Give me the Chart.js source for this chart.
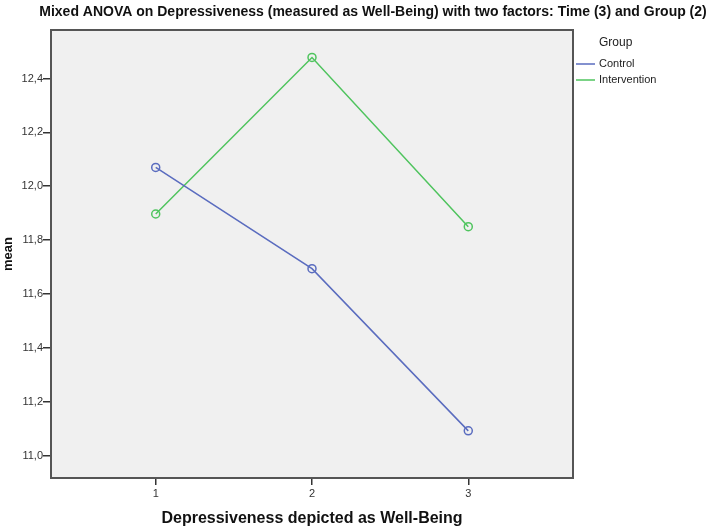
<!DOCTYPE html>
<html>
<head>
<meta charset="utf-8">
<script src="https://cdn.jsdelivr.net/npm/chart.js@4"></script>
<style>
  html, body { margin: 0; padding: 0; background: #fff; }
  #wrap { width: 709px; height: 528px; }
</style>
</head>
<body>
<div id="wrap"><canvas id="grafico" width="709" height="528"></canvas></div>
<script>
// datos
const tiempos = [1, 2, 3];
const control = [12.07, 11.694, 11.092];
const intervencion = [11.897, 12.478, 11.85];
const ticksY = [11.0, 11.2, 11.4, 11.6, 11.8, 12.0, 12.2, 12.4];

const titulo = 'Mixed ANOVA on Depressiveness (measured as Well-Being) with two factors: Time (3) and Group (2)';
const fuente = 'Arial, "Liberation Sans", sans-serif';

function puntos(serie) {
    return tiempos.map((t, i) => ({ x: t, y: serie[i] }));
}

// --- fondo, marco, titulo y leyenda ---
const decoracion = {
    id: 'decoracion',
    beforeDraw(chart) {
        const { ctx, chartArea: a } = chart;
        ctx.save();
        ctx.fillStyle = '#f0f0f0';
        ctx.fillRect(a.left, a.top, a.right - a.left, a.bottom - a.top);
        ctx.restore();
    },
    afterDraw(chart) {
        const { ctx, chartArea: a } = chart;
        ctx.save();
        ctx.strokeStyle = '#555';
        ctx.lineWidth = 2;
        ctx.strokeRect(a.left, a.top, a.right - a.left, a.bottom - a.top);

        // titulo
        ctx.fillStyle = '#111';
        ctx.font = 'bold 14px ' + fuente;
        ctx.textAlign = 'center';
        ctx.textBaseline = 'middle';
        ctx.fillText(titulo, 373, 12);

        // leyenda
        ctx.font = '12px ' + fuente;
        ctx.textAlign = 'left';
        ctx.fillStyle = '#222';
        ctx.fillText('Group', 599, 43);
        ctx.font = '11px ' + fuente;
        chart.data.datasets.forEach((ds, i) => {
            const y = 64 + i * 16;
            ctx.strokeStyle = ds.borderColor;
            ctx.lineWidth = 1.5;
            ctx.beginPath();
            ctx.moveTo(a.right + 3, y);
            ctx.lineTo(a.right + 22, y);
            ctx.stroke();
            ctx.fillStyle = '#222';
            ctx.fillText(ds.label, a.right + 26, y);
        });
        ctx.restore();
    }
};

new Chart(document.getElementById('grafico').getContext('2d'), {
    type: 'line',
    data: {
        datasets: [
            {
                label: 'Control',
                data: puntos(control),
                borderColor: '#5a6cbf',
                backgroundColor: 'rgba(0,0,0,0)',
                borderWidth: 1.5,
                pointRadius: 4,
                pointBorderWidth: 1.5,
                pointBackgroundColor: 'rgba(0,0,0,0)',
                tension: 0
            },
            {
                label: 'Intervention',
                data: puntos(intervencion),
                borderColor: '#4fc45e',
                backgroundColor: 'rgba(0,0,0,0)',
                borderWidth: 1.5,
                pointRadius: 4,
                pointBorderWidth: 1.5,
                pointBackgroundColor: 'rgba(0,0,0,0)',
                tension: 0
            }
        ]
    },
    options: {
        responsive: false,
        animation: false,
        layout: { padding: { top: 30, right: 136, bottom: 0, left: 0 } },
        plugins: {
            legend: { display: false },
            title: { display: false },
            tooltip: { enabled: false }
        },
        scales: {
            x: {
                type: 'linear',
                min: 0.33,
                max: 3.67,
                afterBuildTicks: s => { s.ticks = tiempos.map(v => ({ value: v })); },
                afterFit: s => { s.height = 50; },
                grid: { drawOnChartArea: false, drawTicks: true, tickLength: 7, color: '#333', lineWidth: 1.5 },
                border: { display: false },
                ticks: { color: '#333', font: { size: 11, family: fuente }, padding: 2 },
                title: {
                    display: true,
                    text: 'Depressiveness depicted as Well-Being',
                    color: '#111',
                    font: { size: 16, weight: 'bold', family: fuente },
                    padding: { top: 0, bottom: 0 }
                }
            },
            y: {
                type: 'linear',
                min: 10.917,
                max: 12.58,
                afterBuildTicks: s => { s.ticks = ticksY.map(v => ({ value: v })); },
                afterFit: s => { s.width = 51; },
                grid: { drawOnChartArea: false, drawTicks: true, tickLength: 8, color: '#333', lineWidth: 1.5 },
                border: { display: false },
                ticks: {
                    color: '#333',
                    font: { size: 11, family: fuente },
                    padding: 0,
                    callback: v => v.toFixed(1).replace('.', ',')
                },
                title: {
                    display: true,
                    text: 'mean',
                    color: '#111',
                    font: { size: 13, weight: 'bold', family: fuente },
                    padding: { top: 1, bottom: 0 }
                }
            }
        }
    },
    plugins: [decoracion]
});
</script>
</body>
</html>
